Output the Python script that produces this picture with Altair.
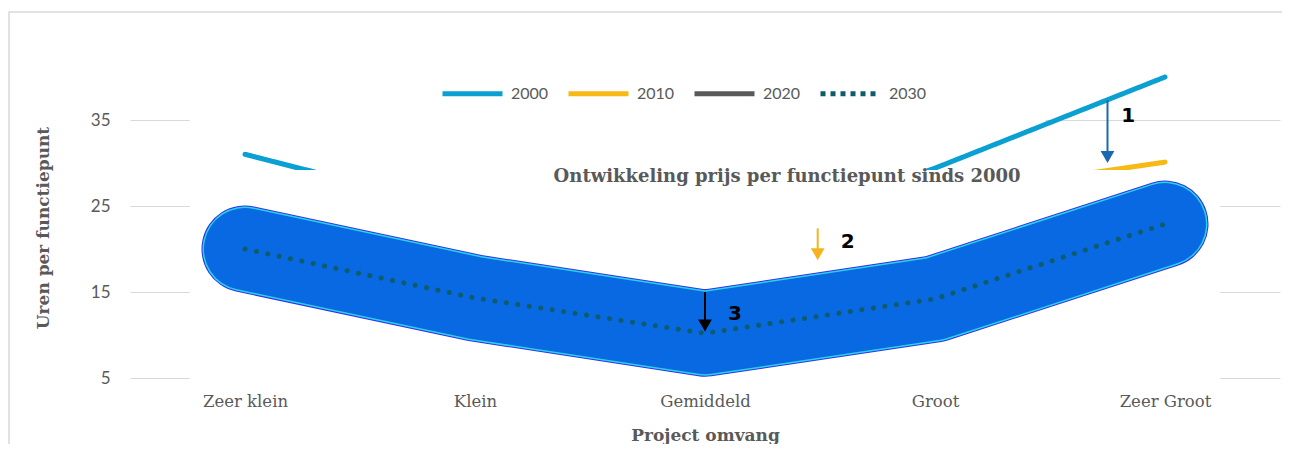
import json
import altair as alt
import pandas as pd

# ---- data ----
categories = ["Zeer klein", "Klein", "Gemiddeld", "Groot", "Zeer Groot"]
series_names = ["2000", "2010", "2020", "2030"]
y2000 = [31.0, 24.2, 20.0, 29.4, 40.0]
y2010 = [26.0, 20.0, 16.0, 26.2, 30.1]
y2020 = [23.0, 17.0, 13.0, 19.0, 27.0]
y2030 = [20.0, 14.3, 10.2, 14.2, 22.9]
series_colors = ["#0AA0D2", "#F7B916", "#595959", "#0E5C6B"]
y_ticks = [5, 15, 25, 35]

chart_title = "Ontwikkeling prijs per functiepunt sinds 2000"
title_pos = [2.357, 28.4]

arrow_labels = ["1", "2", "3"]
arrow_x = [3.75, 2.49, 2.0]
arrow_y_start = [37.3, 22.4, 15.0]
arrow_y_end = [31.2, 19.8, 11.6]
arrow_head_y = [30.7, 19.4, 11.1]
arrow_label_x = [3.84, 2.62, 2.13]
arrow_label_y = [35.5, 20.8, 12.4]
arrow_colors = ["#1C68B0", "#F5B41E", "#000000"]

# white boxes of the original picture that hide parts of the lines / grid
box_a = {"x": -0.24, "x2": 3.48, "y": 29.2, "y2": 36.0}
box_b = {"x": -0.24, "x2": 4.24, "y": 3.9, "y2": 29.2}

# ---- tables ----
rows = []
for s, vals in zip(series_names, [y2000, y2010, y2020, y2030]):
    for i, (c, v) in enumerate(zip(categories, vals)):
        rows.append({"idx": i, "category": c, "series": s, "value": v})
long_df = pd.DataFrame(rows)
band_df = pd.DataFrame({"idx": list(range(len(categories))), "value": y2030})
boxes_a_df = pd.DataFrame([box_a])
boxes_b_df = pd.DataFrame([box_b])
arrows_df = pd.DataFrame({
    "label": arrow_labels, "x": arrow_x, "y": arrow_y_start, "y2": arrow_y_end,
    "yh": arrow_head_y, "lx": arrow_label_x, "ly": arrow_label_y, "col": arrow_colors,
})
title_df = pd.DataFrame({"x": [title_pos[0]], "y": [title_pos[1]], "t": [chart_title]})

serif = "DejaVu Serif"
grey = "#595959"

x_scale = alt.Scale(domain=[-0.5, len(categories) - 0.5], nice=False, zero=False)
y_scale = alt.Scale(domain=[5, 40], nice=False, zero=False)

label_expr = json.dumps(categories) + "[datum.value]"

x_axis = alt.Axis(values=list(range(len(categories))), labelExpr=label_expr, grid=False,
                  domain=False, ticks=False, labelPadding=15, labelFont=serif,
                  labelFontSize=16.5, labelColor=grey, title="Project omvang",
                  titleFont=serif, titleFontSize=17, titleColor=grey,
                  titleFontWeight="bold", titlePadding=18)
y_axis = alt.Axis(values=y_ticks, grid=True, gridColor="#D9D9D9", gridWidth=1, domain=False,
                  ticks=False, labelPadding=20, labelFont="Lato", labelFontSize=17,
                  labelColor=grey, title="Uren per functiepunt",
                  titleFont=serif, titleFontSize=17, titleColor=grey,
                  titleFontWeight="bold", titlePadding=38)

legend = alt.Legend(orient="none", legendX=310, legendY=-16, direction="horizontal", title=None,
                    symbolType="stroke", symbolSize=3600, symbolStrokeWidth=5,
                    labelFont="Lato", labelFontSize=16, labelColor=grey, labelOffset=6,
                    columnPadding=9)

frame = alt.Chart(pd.DataFrame({"a": [0]})).mark_rect(
    fillOpacity=0, stroke="#D9D9D9", strokeWidth=1.5
).encode(x=alt.value(-121), x2=alt.value(1160), y=alt.value(-65), y2=alt.value(400))

cover_a = alt.Chart(boxes_a_df).mark_rect(color="white").encode(
    x=alt.X("x:Q", scale=x_scale, axis=x_axis), x2="x2:Q",
    y=alt.Y("y:Q", scale=y_scale, axis=y_axis), y2="y2:Q")

lines = alt.Chart(long_df).mark_line(strokeWidth=5, strokeCap="round", strokeJoin="round").encode(
    x=alt.X("idx:Q", scale=x_scale),
    y=alt.Y("value:Q", scale=y_scale),
    color=alt.Color("series:N", scale=alt.Scale(domain=series_names, range=series_colors), legend=legend),
    strokeDash=alt.StrokeDash("series:N", scale=alt.Scale(domain=series_names,
                              range=[[1, 0], [1, 0], [1, 0], [5, 5]]), legend=legend),
    detail="series:N",
)

cover_b = alt.Chart(boxes_b_df).mark_rect(color="white").encode(
    x=alt.X("x:Q", scale=x_scale), x2="x2:Q",
    y=alt.Y("y:Q", scale=y_scale), y2="y2:Q")

def band(width, colour):
    return alt.Chart(band_df).mark_line(strokeWidth=width, color=colour, strokeCap="round",
                                        strokeJoin="round").encode(
        x=alt.X("idx:Q", scale=x_scale), y=alt.Y("value:Q", scale=y_scale))

band_layers = [band(87, "#3030F0"), band(85, "#2BD3E6"), band(82, "#0869E3")]

dotted = alt.Chart(band_df).mark_line(strokeWidth=5, color="#0E5C6B", strokeCap="round",
                                      strokeDash=[0.1, 11.5]).encode(
    x=alt.X("idx:Q", scale=x_scale), y=alt.Y("value:Q", scale=y_scale))

title_text = alt.Chart(title_df).mark_text(font=serif, fontSize=18, fontWeight="bold", color=grey,
                                           align="center", baseline="middle").encode(
    x=alt.X("x:Q", scale=x_scale), y=alt.Y("y:Q", scale=y_scale), text="t:N")

arrow_shafts = alt.Chart(arrows_df).mark_rule(strokeWidth=2).encode(
    x=alt.X("x:Q", scale=x_scale), y=alt.Y("y:Q", scale=y_scale), y2="y2:Q",
    color=alt.Color("col:N", scale=None))
arrow_heads = alt.Chart(arrows_df).mark_point(shape="triangle-down", filled=True, size=190, opacity=1).encode(
    x=alt.X("x:Q", scale=x_scale), y=alt.Y("yh:Q", scale=y_scale),
    color=alt.Color("col:N", scale=None))
arrow_text = alt.Chart(arrows_df).mark_text(font="DejaVu Sans", fontSize=20, fontWeight="bold",
                                            color="black", align="center", baseline="middle").encode(
    x=alt.X("lx:Q", scale=x_scale), y=alt.Y("ly:Q", scale=y_scale), text="label:N")

chart = alt.layer(
    frame, cover_a, lines, cover_b, *band_layers, dotted, title_text,
    arrow_shafts, arrow_heads, arrow_text
).properties(
    width=1150, height=301,
    autosize=alt.AutoSizeParams(type="none"),
    padding={"left": 122, "top": 69, "right": 2, "bottom": 66},
).configure_view(strokeWidth=0)

chart.save("out.html", embed_options={"renderer": "svg", "actions": False})
